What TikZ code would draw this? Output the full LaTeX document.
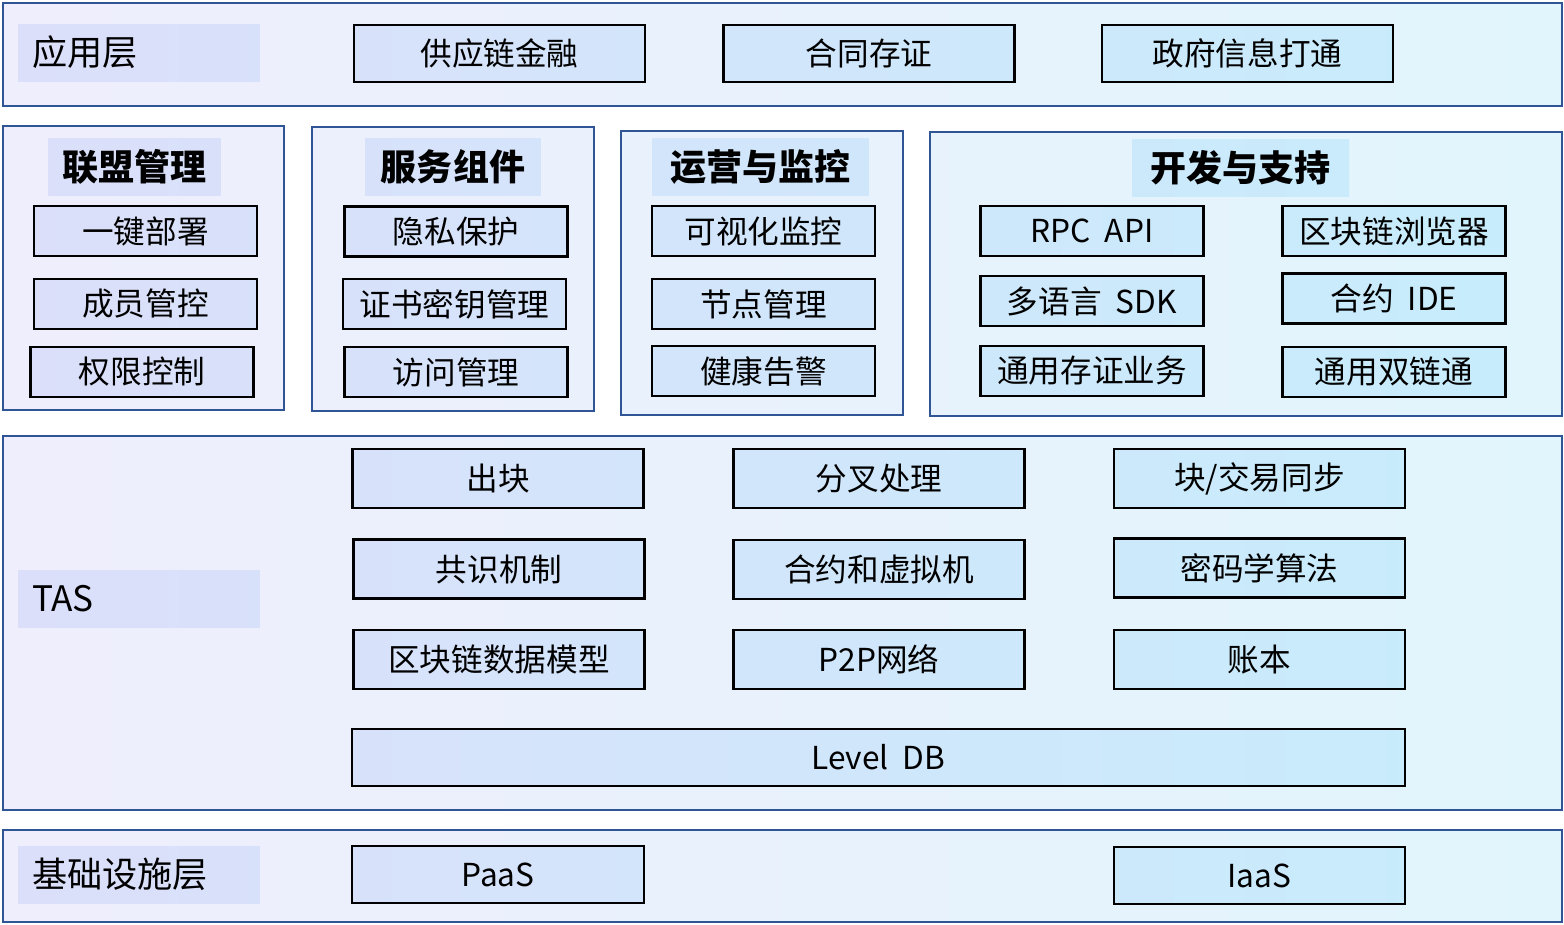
\documentclass[tikz,border=0pt]{standalone}
\usepackage{fontspec}
\setmainfont{Noto Sans CJK SC}
\usetikzlibrary{positioning}
\definecolor{bcframe}{HTML}{2F5597}
\definecolor{bcpanelL}{HTML}{EFEEFC}
\definecolor{bcpanelR}{HTML}{E1F5FC}
\definecolor{bcboxL}{HTML}{DCDFFA}
\definecolor{bcboxR}{HTML}{C6EDFC}
\tikzset{
  bc sweep/.style 2 args={fill=#1, path picture={\shade[left color=#1, right color=#2] (img nw) rectangle (img se);}},
  bc panel/.style={draw=bcframe, line width=1.3pt, bc sweep={bcpanelL}{bcpanelR}, anchor=north west, inner sep=0pt},
  bc box/.style={draw=black, line width=1.35pt, bc sweep={bcboxL}{bcboxR}, inner sep=0pt,
    font=\fontsize{18}{20}\selectfont},
  bc tag/.style={bc sweep={bcboxL}{bcboxR}, minimum height=1.14cm, inner sep=0pt,
    font=\fontsize{20.5}{22}\selectfont\bfseries},
  bc layer/.style={bc sweep={bcboxL}{bcboxR}, minimum height=1.14cm, text width=4.28cm,
    inner xsep=0.28cm, inner ysep=0pt, align=left, font=\fontsize{20}{22}\selectfont}
}
\begin{document}
\begin{tikzpicture}[x=0.02cm, y=-0.02cm]
  \coordinate (img nw) at (0,0);
  \coordinate (img se) at (1564,924);
  \useasboundingbox (img nw) rectangle (img se);
  % layers
  \node[bc panel, minimum width=31.18cm, minimum height=2.06cm] (lay app) at (2,2) {};
  \node[bc panel, minimum width=5.62cm, minimum height=5.68cm] (lay alli) at (2,125) {};
  \node[bc panel, minimum width=5.64cm, minimum height=5.68cm] (lay svc) at (311,126) {};
  \node[bc panel, minimum width=5.64cm, minimum height=5.68cm] (lay ops) at (620,130) {};
  \node[bc panel, minimum width=12.64cm, minimum height=5.68cm] (lay dev) at (929,131) {};
  \node[bc panel, minimum width=31.18cm, minimum height=7.48cm] (lay tas) at (2,435) {};
  \node[bc panel, minimum width=31.18cm, minimum height=1.84cm] (lay infra) at (2,829) {};
  \foreach \y/\t/\n in {52.5/应用层/lbl app, 598.5/TAS/lbl tas, 874.5/基础设施层/lbl infra} {\node[bc layer] (\n) at (139,\y) {\t};}
  % application
  \foreach \x/\t/\n in {499.5/供应链金融/app1, 869/合同存证/app2, 1247.5/政府信息打通/app3} {\node[bc box, minimum width=5.82cm, minimum height=1.14cm] (\n) at (\x,53.5) {\t};}
  % management and tools
  \node[bc tag, minimum width=3.46cm] (tag alli) at (134.5,167) {联盟管理};
  \node[bc tag, minimum width=3.52cm] (tag svc) at (453,166.5) {服务组件};
  \node[bc tag, minimum width=4.34cm] (tag ops) at (760.5,166.5) {运营与监控};
  \node[bc tag, minimum width=4.34cm] (tag dev) at (1240.5,167.5) {开发与支持};
  \foreach \x/\y/\t/\n in {145.5/231/一键部署/alli1, 145.5/304/成员管控/alli2, 142/372/权限控制/alli3,
    456/231.5/隐私保护/svc1, 454.5/304/证书密钥管理/svc2, 456/372/访问管理/svc3,
    763.5/231/可视化监控/ops1, 763.5/304/节点管理/ops2, 763.5/371/健康告警/ops3,
    1092/231/RPC\ \ API/dev1, 1394/231/区块链浏览器/dev2, 1092/301/多语言\ \ SDK/dev3,
    1394/298.5/合约\ \ IDE/dev4, 1092/371/通用存证业务/dev5, 1394/372/通用双链通/dev6} {\node[bc box, minimum width=4.46cm, minimum height=1.0cm] (\n) at (\x,\y) {\t};}
  % core
  \foreach \x/\y/\t/\n in {498/478.5/出块/tas1, 879/478.5/分叉处理/tas2, 1259.5/478.5/{块/交易同步}/tas3,
    499/569/共识机制/tas4, 879/569.5/合约和虚拟机/tas5, 1259.5/568/密码学算法/tas6,
    499/659.5/区块链数据模型/tas7, 879/659.5/P2P网络/tas8, 1259.5/659.5/账本/tas9} {\node[bc box, minimum width=5.82cm, minimum height=1.18cm] (\n) at (\x,\y) {\t};}
  \node[bc box, minimum width=21.06cm, minimum height=1.14cm] (db) at (878.5,757.5) {Level\ \ DB};
  % infrastructure
  \node[bc box, minimum width=5.84cm, minimum height=1.14cm] (paas) at (498,874.5) {PaaS};
  \node[bc box, minimum width=5.82cm, minimum height=1.14cm] (iaas) at (1259.5,875.5) {IaaS};
\end{tikzpicture}
\end{document}
